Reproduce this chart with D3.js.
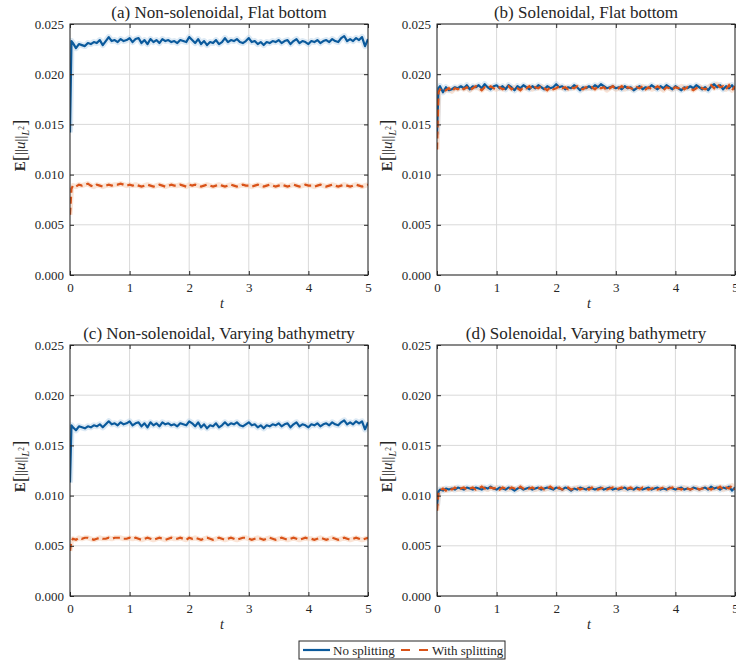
<!DOCTYPE html>
<html><head><meta charset="utf-8">
<script src="https://cdn.jsdelivr.net/npm/d3@7"></script>
<style>
body{margin:0;background:#fff}
svg text{font-family:"Liberation Serif","Times New Roman",serif;fill:#262626}
</style>
</head><body>
<svg id="chart" width="736" height="661"></svg>
<script>
// time grid: t=0, t=0.025, then 0.05 ... 5.0
const times = [0, 0.025].concat(d3.range(1, 101).map(i => +(i * 0.05).toFixed(2)));

const titles = ["(a) Non-solenoidal, Flat bottom", "(b) Solenoidal, Flat bottom",
                "(c) Non-solenoidal, Varying bathymetry", "(d) Solenoidal, Varying bathymetry"];
const xTicks = [0, 1, 2, 3, 4, 5];
const yTicks = [0, 0.005, 0.010, 0.015, 0.020, 0.025];
const legendLabels = ["No splitting", "With splitting"];

const aNo = [0.0142,0.0233,
 0.0231,0.0226,0.0230,0.0229,0.0228,0.0231,0.0230,0.0232,0.0231,0.0234,
 0.0229,0.0233,0.0237,0.0233,0.0234,0.0232,0.0235,0.0233,0.0234,0.0236,
 0.0232,0.0235,0.0236,0.0231,0.0234,0.0230,0.0235,0.0232,0.0234,0.0231,
 0.0235,0.0233,0.0234,0.0232,0.0233,0.0231,0.0234,0.0233,0.0232,0.0237,
 0.0234,0.0231,0.0235,0.0230,0.0233,0.0229,0.0232,0.0231,0.0234,0.0230,
 0.0232,0.0236,0.0232,0.0234,0.0233,0.0235,0.0232,0.0231,0.0233,0.0236,
 0.0232,0.0233,0.0230,0.0232,0.0229,0.0232,0.0231,0.0233,0.0232,0.0234,
 0.0231,0.0233,0.0234,0.0230,0.0233,0.0235,0.0231,0.0233,0.0232,0.0230,
 0.0233,0.0232,0.0234,0.0231,0.0233,0.0234,0.0232,0.0235,0.0233,0.0232,
 0.0236,0.0238,0.0233,0.0235,0.0233,0.0236,0.0234,0.0237,0.0228,0.0235];
const aWith = [0.0060,0.0086,
 0.0089,0.0088,0.0090,0.0089,0.0090,0.0091,0.0089,0.0088,0.0090,0.0089,
 0.0088,0.0089,0.0090,0.0089,0.0090,0.0090,0.0091,0.0090,0.0089,0.0090,
 0.0089,0.0090,0.0089,0.0088,0.0089,0.0090,0.0089,0.0088,0.0089,0.0090,
 0.0089,0.0088,0.0089,0.0090,0.0089,0.0089,0.0090,0.0089,0.0088,0.0090,
 0.0089,0.0090,0.0089,0.0088,0.0089,0.0090,0.0089,0.0088,0.0089,0.0090,
 0.0089,0.0088,0.0089,0.0090,0.0089,0.0088,0.0089,0.0090,0.0089,0.0089,
 0.0088,0.0089,0.0090,0.0089,0.0088,0.0089,0.0090,0.0089,0.0088,0.0089,
 0.0090,0.0089,0.0088,0.0089,0.0090,0.0089,0.0088,0.0089,0.0090,0.0089,
 0.0089,0.0088,0.0089,0.0090,0.0089,0.0088,0.0089,0.0090,0.0089,0.0088,
 0.0089,0.0090,0.0089,0.0088,0.0089,0.0090,0.0089,0.0088,0.0089,0.0090];
const bNo = [0.0140,0.0186,
 0.0188,0.0182,0.0187,0.0184,0.0185,0.0187,0.0186,0.0188,0.0186,0.0189,
 0.0185,0.0188,0.0187,0.0189,0.0186,0.0190,0.0187,0.0185,0.0188,0.0189,
 0.0186,0.0188,0.0185,0.0189,0.0187,0.0184,0.0188,0.0186,0.0189,0.0187,
 0.0185,0.0188,0.0186,0.0189,0.0187,0.0185,0.0188,0.0186,0.0187,0.0190,
 0.0187,0.0188,0.0185,0.0187,0.0186,0.0189,0.0187,0.0184,0.0187,0.0186,
 0.0188,0.0186,0.0189,0.0187,0.0190,0.0188,0.0186,0.0187,0.0188,0.0186,
 0.0187,0.0185,0.0188,0.0186,0.0187,0.0184,0.0186,0.0188,0.0185,0.0187,
 0.0186,0.0189,0.0187,0.0185,0.0188,0.0186,0.0189,0.0187,0.0185,0.0188,
 0.0186,0.0184,0.0187,0.0186,0.0188,0.0186,0.0189,0.0187,0.0185,0.0187,
 0.0184,0.0188,0.0190,0.0187,0.0189,0.0185,0.0188,0.0186,0.0189,0.0185];
const bWith = [0.0125,0.0182,
 0.0185,0.0183,0.0184,0.0186,0.0183,0.0186,0.0185,0.0187,0.0185,0.0187,
 0.0184,0.0186,0.0188,0.0186,0.0184,0.0187,0.0186,0.0188,0.0186,0.0185,
 0.0187,0.0185,0.0186,0.0188,0.0185,0.0187,0.0186,0.0184,0.0187,0.0186,
 0.0188,0.0185,0.0187,0.0186,0.0188,0.0186,0.0184,0.0187,0.0185,0.0186,
 0.0188,0.0186,0.0187,0.0185,0.0187,0.0186,0.0188,0.0186,0.0185,0.0187,
 0.0186,0.0187,0.0185,0.0188,0.0186,0.0187,0.0184,0.0186,0.0188,0.0185,
 0.0186,0.0188,0.0185,0.0187,0.0186,0.0185,0.0187,0.0186,0.0188,0.0185,
 0.0187,0.0185,0.0186,0.0188,0.0186,0.0184,0.0187,0.0186,0.0185,0.0187,
 0.0186,0.0188,0.0185,0.0187,0.0186,0.0184,0.0186,0.0188,0.0186,0.0185,
 0.0187,0.0189,0.0186,0.0190,0.0187,0.0188,0.0185,0.0189,0.0184,0.0188];
const cNo = [0.0113,0.0170,
 0.0168,0.0165,0.0169,0.0168,0.0167,0.0169,0.0168,0.0170,0.0169,0.0171,
 0.0168,0.0171,0.0174,0.0171,0.0172,0.0170,0.0173,0.0171,0.0172,0.0174,
 0.0170,0.0172,0.0173,0.0169,0.0172,0.0168,0.0173,0.0170,0.0172,0.0169,
 0.0173,0.0171,0.0172,0.0170,0.0171,0.0169,0.0172,0.0171,0.0170,0.0174,
 0.0172,0.0169,0.0173,0.0168,0.0171,0.0167,0.0170,0.0169,0.0172,0.0168,
 0.0170,0.0173,0.0170,0.0172,0.0171,0.0173,0.0170,0.0169,0.0171,0.0173,
 0.0170,0.0171,0.0168,0.0170,0.0167,0.0170,0.0169,0.0171,0.0170,0.0172,
 0.0169,0.0171,0.0172,0.0168,0.0171,0.0173,0.0169,0.0171,0.0170,0.0168,
 0.0171,0.0170,0.0172,0.0169,0.0171,0.0172,0.0170,0.0173,0.0171,0.0170,
 0.0173,0.0175,0.0171,0.0173,0.0171,0.0174,0.0172,0.0174,0.0166,0.0173];
const cWith = [0.0045,0.0055,
 0.0057,0.0056,0.0058,0.0057,0.0058,0.0058,0.0057,0.0056,0.0057,0.0058,
 0.0057,0.0057,0.0058,0.0057,0.0058,0.0058,0.0058,0.0057,0.0057,0.0058,
 0.0057,0.0058,0.0057,0.0056,0.0057,0.0058,0.0057,0.0056,0.0057,0.0058,
 0.0057,0.0056,0.0057,0.0058,0.0057,0.0057,0.0058,0.0057,0.0056,0.0058,
 0.0057,0.0058,0.0057,0.0056,0.0057,0.0058,0.0057,0.0056,0.0057,0.0058,
 0.0057,0.0056,0.0057,0.0058,0.0057,0.0056,0.0057,0.0058,0.0058,0.0057,
 0.0056,0.0057,0.0058,0.0057,0.0056,0.0057,0.0058,0.0057,0.0056,0.0057,
 0.0058,0.0057,0.0056,0.0057,0.0058,0.0057,0.0056,0.0057,0.0058,0.0057,
 0.0057,0.0056,0.0057,0.0058,0.0057,0.0056,0.0057,0.0058,0.0057,0.0056,
 0.0057,0.0058,0.0057,0.0056,0.0057,0.0058,0.0057,0.0056,0.0057,0.0058];
const dNo = [0.0090,0.0104,
 0.0106,0.0105,0.0107,0.0106,0.0107,0.0106,0.0108,0.0107,0.0106,0.0108,
 0.0107,0.0106,0.0108,0.0107,0.0106,0.0108,0.0107,0.0109,0.0107,0.0106,
 0.0108,0.0107,0.0106,0.0108,0.0107,0.0105,0.0107,0.0108,0.0106,0.0107,
 0.0108,0.0106,0.0107,0.0108,0.0106,0.0107,0.0108,0.0107,0.0106,0.0108,
 0.0107,0.0106,0.0108,0.0107,0.0105,0.0107,0.0106,0.0108,0.0107,0.0106,
 0.0108,0.0107,0.0106,0.0107,0.0108,0.0106,0.0107,0.0108,0.0106,0.0107,
 0.0106,0.0107,0.0108,0.0106,0.0107,0.0106,0.0108,0.0107,0.0106,0.0107,
 0.0108,0.0106,0.0107,0.0108,0.0106,0.0107,0.0106,0.0108,0.0107,0.0106,
 0.0107,0.0108,0.0106,0.0107,0.0106,0.0108,0.0107,0.0106,0.0107,0.0108,
 0.0106,0.0109,0.0107,0.0108,0.0106,0.0108,0.0107,0.0109,0.0105,0.0108];
const dWith = [0.0085,0.0103,
 0.0105,0.0107,0.0105,0.0107,0.0106,0.0108,0.0106,0.0107,0.0108,0.0106,
 0.0107,0.0108,0.0106,0.0107,0.0109,0.0107,0.0106,0.0108,0.0107,0.0108,
 0.0106,0.0108,0.0107,0.0106,0.0108,0.0107,0.0106,0.0109,0.0107,0.0106,
 0.0107,0.0108,0.0106,0.0107,0.0108,0.0106,0.0107,0.0109,0.0107,0.0106,
 0.0108,0.0106,0.0107,0.0108,0.0106,0.0107,0.0108,0.0106,0.0107,0.0108,
 0.0106,0.0108,0.0107,0.0106,0.0107,0.0108,0.0106,0.0107,0.0108,0.0106,
 0.0107,0.0108,0.0106,0.0107,0.0108,0.0106,0.0107,0.0106,0.0108,0.0107,
 0.0106,0.0107,0.0108,0.0106,0.0107,0.0108,0.0106,0.0107,0.0108,0.0106,
 0.0107,0.0106,0.0108,0.0107,0.0106,0.0107,0.0108,0.0106,0.0107,0.0108,
 0.0107,0.0106,0.0108,0.0107,0.0109,0.0106,0.0108,0.0107,0.0110,0.0106];

const noSplit = [aNo, bNo, cNo, dNo];
const withSplit = [aWith, bWith, cWith, dWith];

const BLUE = "#0b5a9c", ORANGE = "#d95319", AXIS = "#262626", GRID = "#d9d9d9";
const W = 298, H = 251;
const origins = [[70, 24], [437, 24], [70, 345], [437, 345]];
const SERIF = '"Liberation Serif","Times New Roman",serif';

const svg = d3.select("#chart");
const defs = svg.append("defs");
defs.append("clipPath").attr("id", "clip").append("rect").attr("width", W).attr("height", H);

titles.forEach((title, k) => {
  const [ox, oy] = origins[k];
  const g = svg.append("g").attr("transform", `translate(${ox},${oy})`);
  const x = d3.scaleLinear().domain([0, 5]).range([0, W]);
  const y = d3.scaleLinear().domain([0, 0.025]).range([H, 0]);

  // grid
  g.append("g").selectAll("line").data(xTicks).join("line")
    .attr("x1", d => x(d)).attr("x2", d => x(d)).attr("y1", 0).attr("y2", H)
    .attr("stroke", GRID).attr("stroke-width", 1);
  g.append("g").selectAll("line").data(yTicks).join("line")
    .attr("y1", d => y(d)).attr("y2", d => y(d)).attr("x1", 0).attr("x2", W)
    .attr("stroke", GRID).attr("stroke-width", 1);

  const line = d3.line().x((d, i) => x(times[i])).y(d => y(d));
  const plot = g.append("g").attr("clip-path", "url(#clip)");
  // faint spread bands
  plot.append("path").attr("d", line(noSplit[k])).attr("fill", "none")
    .attr("stroke", "#b9d3ea").attr("stroke-opacity", 0.5).attr("stroke-width", 6).attr("stroke-linejoin", "round");
  plot.append("path").attr("d", line(withSplit[k])).attr("fill", "none")
    .attr("stroke", "#f5c9ad").attr("stroke-opacity", 0.5).attr("stroke-width", 5).attr("stroke-linejoin", "round");
  plot.append("path").attr("d", line(noSplit[k])).attr("fill", "none")
    .attr("stroke", BLUE).attr("stroke-width", 2.2).attr("stroke-linejoin", "round");
  plot.append("path").attr("d", line(withSplit[k])).attr("fill", "none")
    .attr("stroke", ORANGE).attr("stroke-width", 2.2).attr("stroke-dasharray", "7,4");

  // axes
  const yAx = g.append("g").call(d3.axisLeft(y).tickValues(yTicks).tickFormat(d3.format(".3f"))
    .tickSizeInner(-4).tickSizeOuter(0).tickPadding(6));
  const xAx = g.append("g").attr("transform", `translate(0,${H})`)
    .call(d3.axisBottom(x).tickValues(xTicks).tickFormat(d3.format("d"))
    .tickSizeInner(-4).tickSizeOuter(0).tickPadding(8));
  const xTop = g.append("g").call(d3.axisTop(x).tickValues(xTicks).tickFormat("")
    .tickSizeInner(-4).tickSizeOuter(0));
  const yRight = g.append("g").attr("transform", `translate(${W},0)`)
    .call(d3.axisRight(y).tickValues(yTicks).tickFormat("").tickSizeInner(-4).tickSizeOuter(0));
  [yAx, xAx, xTop, yRight].forEach(a => {
    a.attr("font-family", SERIF);
    a.select(".domain").remove();
    a.selectAll("line").attr("stroke", AXIS);
    a.selectAll("text").attr("font-size", 13).attr("fill", AXIS).style("font-family", SERIF);
  });
  g.append("rect").attr("width", W).attr("height", H).attr("fill", "none")
    .attr("stroke", AXIS).attr("stroke-width", 1);

  // title
  g.append("text").attr("x", W / 2).attr("y", -6).attr("text-anchor", "middle")
    .attr("font-size", 17).text(title);
  // x label
  g.append("text").attr("x", W / 2 + 3).attr("y", H + 33).attr("text-anchor", "middle")
    .attr("font-size", 14).attr("font-style", "italic").text("t");
  // y label
  const yl = g.append("text").attr("transform", `translate(${-45},${H / 2 - 4}) rotate(-90)`)
    .attr("text-anchor", "middle").attr("font-size", 15);
  yl.append("tspan").attr("font-weight", "bold").text("E");
  yl.append("tspan").attr("font-size", 19).attr("dy", 1).text("[");
  yl.append("tspan").attr("font-size", 15).attr("dy", -1).text("||");
  yl.append("tspan").attr("font-style", "italic").text("u");
  yl.append("tspan").text("||");
  yl.append("tspan").attr("font-style", "italic").attr("font-size", 10).attr("dy", 4).text("L");
  yl.append("tspan").attr("font-size", 7.5).attr("dy", -5).text("2");
  yl.append("tspan").attr("font-size", 19).attr("dy", 2).text("]");
});

// legend
const lg = svg.append("g").attr("transform", "translate(299,641)");
lg.append("rect").attr("width", 206).attr("height", 18).attr("fill", "#fff")
  .attr("stroke", AXIS).attr("stroke-width", 1);
lg.append("line").attr("x1", 4).attr("x2", 31).attr("y1", 9).attr("y2", 9)
  .attr("stroke", BLUE).attr("stroke-width", 2.2);
lg.append("text").attr("x", 34).attr("y", 13.5).attr("font-size", 13).text(legendLabels[0]);
lg.append("line").attr("x1", 102).attr("x2", 129).attr("y1", 9).attr("y2", 9)
  .attr("stroke", ORANGE).attr("stroke-width", 2.2).attr("stroke-dasharray", "9,9");
lg.append("text").attr("x", 133).attr("y", 13.5).attr("font-size", 13).text(legendLabels[1]);
</script>
</body></html>
